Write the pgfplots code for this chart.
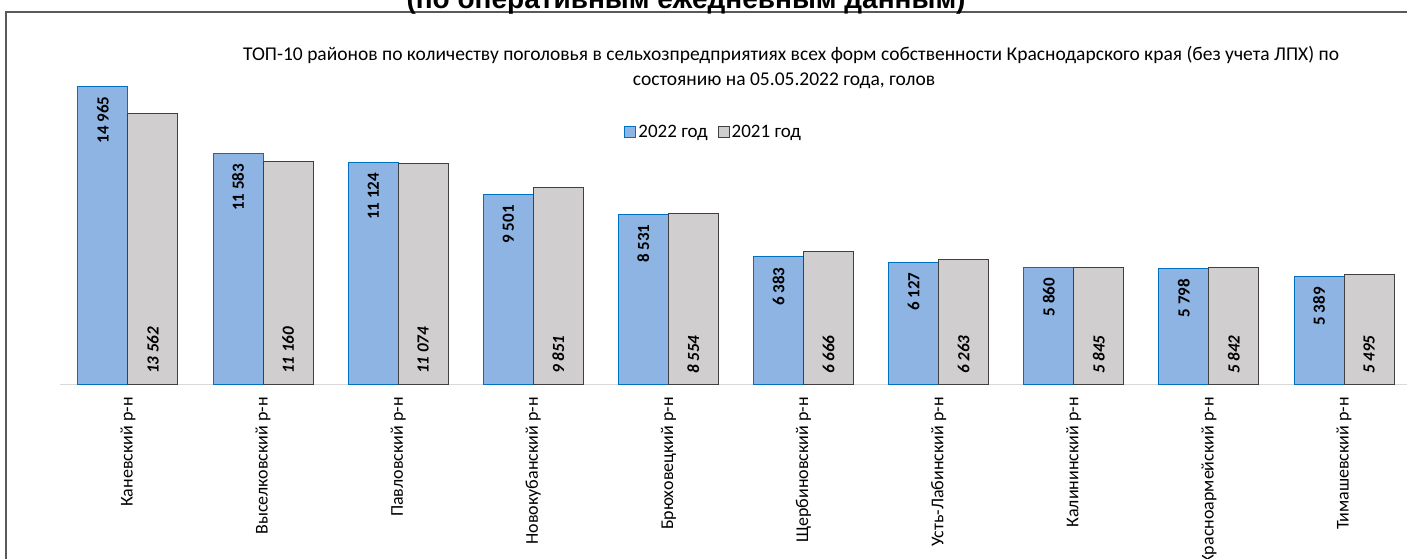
\documentclass[border=0pt]{standalone}
\usepackage{fontspec}
\setmainfont{Carlito}
\newfontfamily\arialfont{Liberation Sans}
\usepackage{pgfplots}
\pgfplotsset{compat=1.18}

\definecolor{bar22}{RGB}{142,180,227}
\definecolor{edge22}{RGB}{0,112,192}
\definecolor{bar21}{RGB}{208,206,206}
\definecolor{edge21}{RGB}{64,64,64}
\definecolor{framegray}{RGB}{89,89,89}
\definecolor{axisgray}{RGB}{217,217,217}

\begin{document}
\begin{tikzpicture}[x=1pt,y=1pt]
\begin{axis}[
  name=ax,
  scale only axis, width=1351.1pt, height=318.6pt,
  xmin=-0.5, xmax=9.5, ymin=0, ymax=16000,
  axis x line*=bottom, hide y axis,
  x axis line style={axisgray, line width=1pt, -},
  xtick={0,...,9}, major tick length=0pt,
  xticklabels={Каневский р-н, Выселковский р-н, Павловский р-н, Новокубанский р-н, Брюховецкий р-н, Щербиновский р-н, Усть-Лабинский р-н, Калининский р-н, Красноармейский р-н, Тимашевский р-н},
  xticklabel style={rotate=90, anchor=east, inner xsep=13pt, font=\fontsize{18}{20}\selectfont},
  ybar, bar width=50pt,
  /pgf/number format/.cd, 1000 sep={\ }, assume math mode=true,
  /pgfplots/.cd,
  legend style={at={(0.4835,0.792)}, anchor=center, draw=none, fill=none,
    legend columns=2, font=\fontsize{19}{21}\selectfont,
    /tikz/every even column/.append style={column sep=8pt}},
  legend image code/.code={\draw[#1] (0pt,-6pt) rectangle (11pt,5pt);},
]
\addplot[bar shift=-25pt, fill=bar22, draw=edge22, line width=1pt,
  nodes near coords,
  every node near coord/.append style={rotate=90, anchor=east, inner xsep=10pt,
    font=\bfseries\fontsize{17}{19}\selectfont, text=black}]
coordinates {(0,14965) (1,11583) (2,11124) (3,9501) (4,8531) (5,6383) (6,6127) (7,5860) (8,5798) (9,5389)};
\addlegendentry{2022 год}
\addplot[bar shift=25pt, fill=bar21, draw=edge21, line width=1pt]
coordinates {(0,13562) (1,11160) (2,11074) (3,9851) (4,8554) (5,6666) (6,6263) (7,5845) (8,5842) (9,5495)};
\addlegendentry{2021 год}
% labels at the base of the 2021 bars
\addplot[forget plot, bar shift=25pt, draw=none, fill=none,
  point meta=explicit, nodes near coords,
  every node near coord/.append style={rotate=90, anchor=west, inner xsep=10pt,
    font=\bfseries\itshape\fontsize{17}{19}\selectfont, text=black}]
coordinates {(0,0) [13562] (1,0) [11160] (2,0) [11074] (3,0) [9851] (4,0) [8554] (5,0) [6666] (6,0) [6263] (7,0) [5845] (8,0) [5842] (9,0) [5495]};
\end{axis}

% the picture frame, in image pixels from the bottom-left corner
\path (ax.south west) ++(-60.4,-174) coordinate (O);
\begin{scope}[shift={(O)}]
\pgfresetboundingbox
\useasboundingbox (0,0) rectangle (1407,558);
\draw[framegray, line width=2pt] (6,-20) -- (6,546) -- (1430,546);
\node[font=\arialfont\bfseries\fontsize{28}{30}\selectfont, anchor=base] at (686,549) {(по оперативным ежедневным данным)};
\node[font=\fontsize{19.5}{22}\selectfont, anchor=base] at (791,498) {ТОП-10 районов по количеству поголовья в сельхозпредприятиях всех форм собственности Краснодарского края (без учета ЛПХ) по};
\node[font=\fontsize{19.5}{22}\selectfont, anchor=base] at (784,473) {состоянию на 05.05.2022 года, голов};
\end{scope}
\end{tikzpicture}
\end{document}
